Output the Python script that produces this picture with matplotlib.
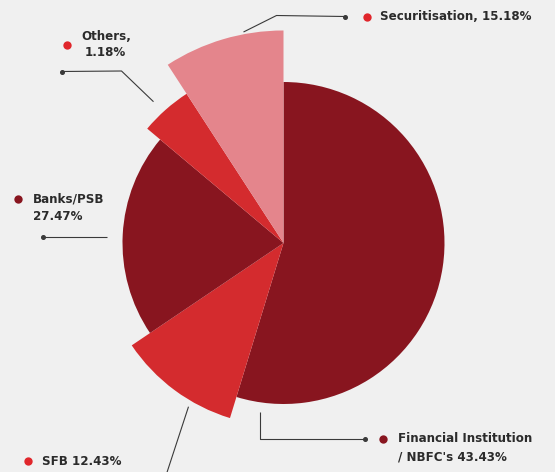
import numpy as np
from matplotlib import pyplot as plt
from matplotlib.patches import Wedge

# slices in drawing order, clockwise from 12 o'clock
names = ["Financial Institution\n/ NBFC's", "SFB", "Banks/PSB", "Others", "Securitisation"]
shares = [43.43, 12.43, 27.47, 1.18, 15.18]          # printed labels
sweep_deg = [197, 39, 74, 17, 33]                    # angles as drawn in the picture
radius = [1.0, 1.137, 1.0, 1.105, 1.32]              # each wedge has its own radius
colors = ["#88151f", "#d42b2e", "#88151f", "#d42b2e", "#e4858c"]
dot_colors = ["#88151f", "#e0262b", "#88151f", "#e0262b", "#e0262b"]

bg = "#f0f0f0"
line_c = "#3a3a3a"
text_c = "#2b2b2b"

W, H = 555, 472
cx, cy, R = 283.5, 243, 161.0   # pie centre / unit radius in pixels


def px(x, y):
    # pixel position -> data coords centred on the pie
    return (x - cx) / R, (cy - y) / R


fig = plt.figure(figsize=(W / 100, H / 100), dpi=100, facecolor=bg)
ax = fig.add_axes([0, 0, 1, 1])
ax.set_facecolor(bg)
ax.set_xlim(px(0, 0)[0], px(W, 0)[0])
ax.set_ylim(px(0, H)[1], px(0, 0)[1])
ax.set_aspect("equal")
ax.axis("off")

start = 0
for sw, r, c in zip(sweep_deg, radius, colors):
    t1 = 90 - (start + sw)
    t2 = 90 - start
    ax.add_patch(Wedge((0, 0), r, t1, t2, facecolor=c, edgecolor="none"))
    start += sw

font = dict(family=["DejaVu Sans"], fontweight="bold", fontsize=8.6, color=text_c, va="center", ha="left")


def leader(points, dot_end=True):
    xs, ys = zip(*[px(*p) for p in points])
    ax.plot(xs, ys, color=line_c, lw=0.8, solid_capstyle="butt")
    if dot_end:
        ax.plot(xs[-1], ys[-1], "o", color=line_c, ms=2.6)


def label(dot, lines, color):
    ax.plot(*px(*dot), "o", color=color, ms=6, mec="none")
    for (x, y, s) in lines:
        ax.text(*px(x, y), s, **font)


# Securitisation
leader([(243.5, 32), (276.5, 15.5), (345, 16.5)])
label((366.5, 16.5), [(380, 16.5, f"{names[4]}, {shares[4]:.2f}%")], dot_colors[4])

# Others
leader([(153.5, 101.7), (121.5, 71), (61.5, 71.5)])
label((67, 45), [(81.5, 36, f"{names[3]},"), (85, 52.5, f"{shares[3]:.2f}%")], dot_colors[3])

# Banks/PSB
leader([(106.5, 236.7), (42.6, 236.7)])
label((18.3, 199), [(33, 199, names[2]), (33, 216.5, f"{shares[2]:.2f}%")], dot_colors[2])

# SFB
leader([(188.5, 406.7), (164.5, 480)], dot_end=False)
label((28.3, 461.3), [(41.7, 461.3, f"{names[1]} {shares[1]:.2f}%")], dot_colors[1])

# Financial Institution / NBFC's
leader([(259.5, 411.7), (259.5, 439), (365, 439)])
fin1, fin2 = names[0].split("\n")
label((383.3, 438.7), [(398.3, 439, fin1), (398.3, 456.5, f"{fin2} {shares[0]:.2f}%")], dot_colors[0])

fig.savefig("out.png", dpi=100, facecolor=bg)
